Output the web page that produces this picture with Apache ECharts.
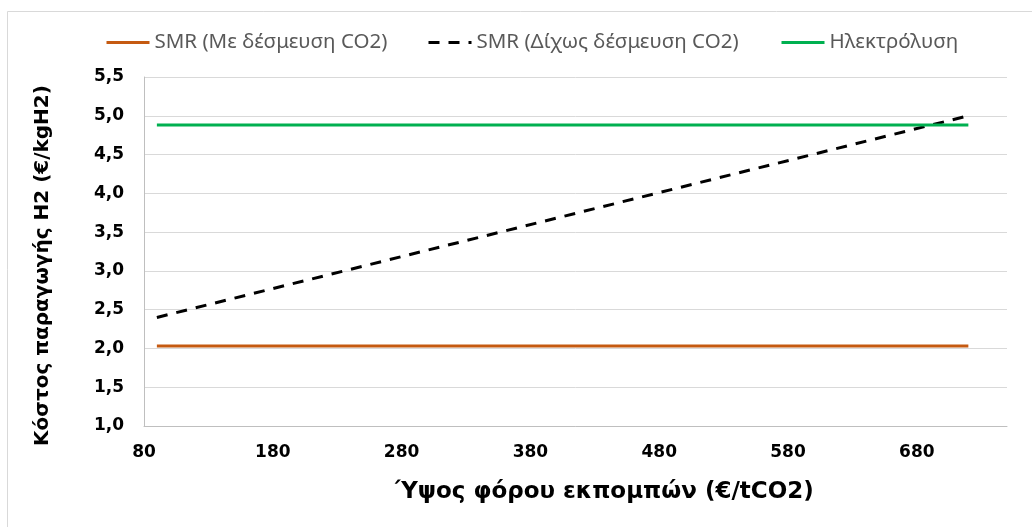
<!DOCTYPE html>
<html>
<head>
<meta charset="utf-8">
<script src="https://cdn.jsdelivr.net/npm/echarts@6/dist/echarts.min.js"></script>
<style>html,body{margin:0;padding:0;background:#fff}#c{width:1032px;height:527px}</style>
</head>
<body>
<div id="c"></div>
<script>
// Data
const seriesNames = ['SMR (Με δέσμευση CO2)', 'SMR (Δίχως δέσμευση CO2)', 'Ηλεκτρόλυση'];
const xValues = [90, 720];                 // €/tCO2
const smrCapture = [2.03, 2.03];           // €/kgH2
const smrNoCapture = [2.4, 5.0];           // €/kgH2
const electrolysis = [4.88, 4.88];         // €/kgH2
const xAxisTitle = 'Ύψος φόρου εκπομπών (€/tCO2)';
const yAxisTitle = 'Κόστος παραγωγής H2 (€/kgH2)';

const pairs = (ys) => xValues.map((x, i) => [x, ys[i]]);
const legendText = { fontFamily: 'Noto Sans', fontSize: 20.5, color: '#595959' };
const mkLegend = (name, left) => ({
  data: [name], left: left, top: 27, itemWidth: 43, itemHeight: 14, itemGap: 0,
  textStyle: legendText, selectedMode: false,
  itemStyle: { opacity: 0, borderWidth: 0 },
  lineStyle: { width: 3 }
});

const chart = echarts.init(document.getElementById('c'));
chart.setOption({
  backgroundColor: '#ffffff',
  animation: false,
  graphic: [{
    type: 'rect', shape: { x: 7.5, y: 11.5, width: 1100, height: 600 },
    style: { fill: 'none', stroke: '#d9d9d9', lineWidth: 1 }, silent: true, z: -1
  }],
  legend: [mkLegend(seriesNames[0], 100), mkLegend(seriesNames[1], 422), mkLegend(seriesNames[2], 775)],
  grid: { left: 144, right: 25, top: 77, bottom: 101, containLabel: false },
  xAxis: {
    type: 'value', min: 80, max: 750, interval: 100,
    name: xAxisTitle, nameLocation: 'middle', nameGap: 55,
    nameTextStyle: { fontFamily: 'DejaVu Sans', fontWeight: 'bold', fontSize: 23, color: '#000', padding: [0, 0, 0, 58] },
    axisLine: { show: true, lineStyle: { color: '#bfbfbf', width: 1 } },
    axisTick: { show: false },
    splitLine: { show: false },
    axisLabel: { showMaxLabel: false, margin: 18, fontFamily: 'DejaVu Sans', fontWeight: 'bold', fontSize: 17, color: '#000' }
  },
  yAxis: {
    type: 'value', min: 1, max: 5.5, interval: 0.5,
    name: yAxisTitle, nameLocation: 'middle', nameGap: 91, nameRotate: 90,
    nameTextStyle: { fontFamily: 'DejaVu Sans', fontWeight: 'bold', fontSize: 20, color: '#000', padding: [0, 28, 0, 0] },
    axisLine: { show: true, lineStyle: { color: '#bfbfbf', width: 1 } },
    axisTick: { show: false },
    splitLine: { show: true, lineStyle: { color: '#d9d9d9', width: 1 } },
    axisLabel: {
      margin: 20, fontFamily: 'DejaVu Sans', fontWeight: 'bold', fontSize: 17, color: '#000',
      formatter: (v) => v.toFixed(1).replace('.', ',')
    }
  },
  series: [
    { name: seriesNames[0], type: 'line', data: pairs(smrCapture), symbol: 'none',
      lineStyle: { color: '#c55a11', width: 3 }, itemStyle: { color: '#c55a11' } },
    { name: seriesNames[1], type: 'line', data: pairs(smrNoCapture), symbol: 'none',
      lineStyle: { color: '#000000', width: 3, type: [11, 9] }, itemStyle: { color: '#000000' } },
    { name: seriesNames[2], type: 'line', data: pairs(electrolysis), symbol: 'none',
      lineStyle: { color: '#00b050', width: 3 }, itemStyle: { color: '#00b050' } }
  ]
});
</script>
</body>
</html>
